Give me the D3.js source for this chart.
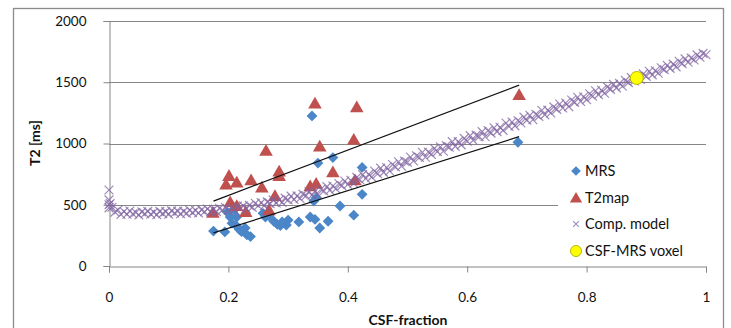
<!DOCTYPE html>
<html><head><meta charset="utf-8">
<script src="https://cdn.jsdelivr.net/npm/d3@7/dist/d3.min.js"></script>
<style>body{margin:0;background:#fff}svg{display:block}text{font-family:Lato,"Open Sans",sans-serif}</style>
</head><body>
<svg id="c" width="731" height="328"></svg>
<script>
const xTicks = [0, 0.2, 0.4, 0.6, 0.8, 1];
const yTicks = [0, 500, 1000, 1500, 2000];
const seriesNames = ["MRS", "T2map", "Comp. model", "CSF-MRS voxel"];

const mrs = [[0.175,285],[0.194,278],[0.198,440],[0.203,400],[0.206,350],[0.209,460],[0.214,400],[0.218,300],[0.222,280],[0.228,310],[0.231,255],[0.237,240],[0.258,430],[0.262,400],[0.268,410],[0.276,365],[0.282,340],[0.287,330],[0.297,335],[0.300,375],[0.318,360],[0.337,400],[0.345,380],[0.347,555],[0.353,310],[0.367,365],[0.387,490],[0.41,415],[0.424,585],[0.424,805],[0.350,840],[0.375,885],[0.340,1225],[0.685,1010],[0.343,530],[0.213,330],[0.29,360]];

const t2map = [[0.174,435],[0.196,665],[0.201,735],[0.203,520],[0.214,680],[0.214,490],[0.229,440],[0.238,700],[0.256,640],[0.263,940],[0.268,455],[0.278,570],[0.285,770],[0.285,735],[0.337,650],[0.347,670],[0.345,1325],[0.353,975],[0.375,765],[0.41,1030],[0.412,700],[0.415,1295],[0.687,1395]];

const compModel = [[0,620],[0,540],[0,475],[0.002,510],[0,500],[0.005,480],[0.010,440],[0.015,457],[0.020,420],[0.025,445],[0.030,423],[0.035,449],[0.040,425],[0.045,437],[0.050,417],[0.055,442],[0.060,427],[0.065,446],[0.070,423],[0.075,439],[0.080,419],[0.085,446],[0.090,428],[0.095,444],[0.100,423],[0.105,450],[0.110,433],[0.115,448],[0.120,427],[0.125,446],[0.130,431],[0.135,455],[0.140,436],[0.145,453],[0.150,433],[0.155,458],[0.160,443],[0.165,465],[0.170,444],[0.175,462],[0.180,444],[0.185,471],[0.190,456],[0.195,478],[0.200,455],[0.205,476],[0.210,457],[0.215,490],[0.220,471],[0.225,491],[0.230,468],[0.235,495],[0.240,479],[0.245,512],[0.250,492],[0.255,517],[0.260,492],[0.265,523],[0.270,509],[0.275,540],[0.280,515],[0.285,539],[0.290,519],[0.295,554],[0.300,539],[0.305,570],[0.310,543],[0.315,572],[0.320,551],[0.325,587],[0.330,574],[0.335,607],[0.340,578],[0.345,609],[0.350,586],[0.355,627],[0.360,612],[0.365,648],[0.370,619],[0.375,653],[0.380,630],[0.385,673],[0.390,656],[0.395,694],[0.400,666],[0.405,700],[0.410,676],[0.415,723],[0.420,704],[0.425,746],[0.430,714],[0.435,748],[0.440,726],[0.445,775],[0.450,753],[0.455,799],[0.460,764],[0.465,804],[0.470,776],[0.475,828],[0.480,808],[0.485,851],[0.490,815],[0.495,856],[0.500,847],[0.505,890],[0.510,857],[0.515,900],[0.520,886],[0.525,929],[0.530,888],[0.535,931],[0.540,911],[0.545,960],[0.550,934],[0.555,973],[0.560,937],[0.565,984],[0.570,970],[0.575,1015],[0.580,977],[0.585,1015],[0.590,989],[0.595,1042],[0.600,1018],[0.605,1064],[0.610,1026],[0.615,1068],[0.620,1056],[0.625,1097],[0.630,1055],[0.635,1105],[0.640,1085],[0.645,1128],[0.650,1097],[0.655,1133],[0.660,1107],[0.665,1167],[0.670,1139],[0.675,1176],[0.680,1144],[0.685,1188],[0.690,1167],[0.695,1215],[0.700,1191],[0.705,1230],[0.710,1194],[0.715,1239],[0.720,1221],[0.725,1271],[0.730,1234],[0.735,1272],[0.740,1249],[0.745,1299],[0.750,1279],[0.755,1322],[0.760,1290],[0.765,1330],[0.770,1301],[0.775,1355],[0.780,1336],[0.785,1378],[0.790,1343],[0.795,1382],[0.800,1358],[0.805,1406],[0.810,1386],[0.815,1431],[0.820,1399],[0.825,1434],[0.830,1410],[0.835,1462],[0.840,1442],[0.845,1483],[0.850,1454],[0.855,1491],[0.860,1467],[0.865,1515],[0.870,1497],[0.875,1538],[0.880,1510],[0.885,1543],[0.890,1522],[0.895,1568],[0.900,1548],[0.905,1590],[0.910,1560],[0.915,1594],[0.920,1573],[0.925,1618],[0.930,1603],[0.935,1639],[0.940,1613],[0.945,1648],[0.950,1626],[0.955,1671],[0.960,1652],[0.965,1691],[0.970,1663],[0.975,1698],[0.980,1682],[0.985,1723],[0.990,1704],[0.995,1736],[1.000,1724]];

const csfVoxel = [[0.884,1535]];
const trendMRS = [[0.175,270],[0.687,1056]];
const trendT2 = [[0.175,530],[0.687,1477]];

const svg = d3.select("#c");
const x = d3.scaleLinear().domain([0,1]).range([109,706]);
const y = d3.scaleLinear().domain([0,2000]).range([266,21]);
const gray = "#868686";

svg.append("rect").attr("x",13.5).attr("y",8.5).attr("width",710).attr("height",330)
  .attr("fill","none").attr("stroke","#8c8c8c").attr("stroke-width",1.3);

svg.append("g").selectAll("line").data(yTicks.filter(d=>d>0)).join("line")
  .attr("x1",x(0)).attr("x2",x(1)).attr("y1",d=>Math.round(y(d))+0.5).attr("y2",d=>Math.round(y(d))+0.5)
  .attr("stroke",gray).attr("stroke-width",1);

const yAxis = svg.append("g").attr("transform",`translate(${x(0)+0.5},0)`)
  .call(d3.axisLeft(y).tickValues(yTicks).tickSize(6).tickPadding(17).tickFormat(d3.format("d")));
yAxis.select(".domain").attr("stroke",gray);
yAxis.selectAll(".tick line").attr("stroke",gray);
yAxis.selectAll("text").attr("font-size",13.5).attr("fill","#111").attr("font-family","Lato, sans-serif");

const xAxis = svg.append("g").attr("transform",`translate(0,${Math.round(y(0))+0.5})`)
  .call(d3.axisBottom(x).tickValues(xTicks).tickSize(6).tickPadding(20).tickFormat(d=>d===0?"0":d===1?"1":d3.format(".1f")(d)));
xAxis.select(".domain").attr("stroke",gray);
xAxis.selectAll(".tick line").attr("stroke",gray);
xAxis.selectAll("text").attr("font-size",13.5).attr("fill","#111").attr("font-family","Lato, sans-serif");

svg.append("text").attr("x",408).attr("y",325).attr("text-anchor","middle")
  .attr("font-size",14).attr("font-weight","bold").attr("fill","#111").text("CSF-fraction");
svg.append("text").attr("transform","translate(40,143) rotate(-90)").attr("text-anchor","middle")
  .attr("font-size",14).attr("font-weight","bold").attr("fill","#111").text("T2 [ms]");

const diamond = d3.symbol().type(d3.symbolDiamond2).size(75);
const tri = d3.symbol().type(d3.symbolTriangle).size(80);
const cross = d3.symbol().type(d3.symbolX).size(52);

const colMRS = "#4a86c8", colT2 = "#c0504d", colComp = "#8064a2";

svg.append("g").selectAll("path").data(mrs).join("path")
  .attr("d",diamond).attr("transform",d=>`translate(${x(d[0])},${y(d[1])})`).attr("fill",colMRS);
svg.append("g").selectAll("path").data(t2map).join("path")
  .attr("d",tri).attr("transform",d=>`translate(${x(d[0])},${y(d[1])+1})`).attr("fill",colT2);
svg.append("g").selectAll("path").data(compModel).join("path")
  .attr("d",cross).attr("transform",d=>`translate(${x(d[0])},${y(d[1])})`)
  .attr("fill","none").attr("stroke",colComp).attr("stroke-width",1.2).attr("stroke-opacity",0.75);
svg.append("g").selectAll("circle").data(csfVoxel).join("circle")
  .attr("cx",d=>x(d[0])).attr("cy",d=>y(d[1])).attr("r",6.5)
  .attr("fill","#ffff00").attr("stroke","#b8b800").attr("stroke-width",1);

const line = d3.line().x(d=>x(d[0])).y(d=>y(d[1]));
[trendMRS, trendT2].forEach(t=>{
  svg.append("path").attr("d",line(t)).attr("fill","none").attr("stroke","#111").attr("stroke-width",1.2);
});

const lg = svg.append("g");
lg.append("rect").attr("x",558).attr("y",157).attr("width",148).attr("height",106).attr("fill","#fff");
const ly = [171, 198, 224, 251];
seriesNames.forEach((n,i)=>{
  const g = lg.append("g").attr("transform",`translate(576,${ly[i]})`);
  if(i===0) g.append("path").attr("d",d3.symbol().type(d3.symbolDiamond2).size(60)).attr("fill",colMRS);
  if(i===1) g.append("path").attr("d",d3.symbol().type(d3.symbolTriangle).size(65)).attr("transform","translate(0,1)").attr("fill",colT2);
  if(i===2) g.append("path").attr("d",d3.symbol().type(d3.symbolX).size(22)).attr("fill","none").attr("stroke",colComp).attr("stroke-width",1.1).attr("stroke-opacity",0.75);
  if(i===3) g.append("circle").attr("r",5.5).attr("fill","#ffff00").attr("stroke","#b8b800");
  g.append("text").attr("x",9).attr("y",5).attr("font-size",14.5).attr("fill","#111").text(n);
});
</script>
</body></html>
